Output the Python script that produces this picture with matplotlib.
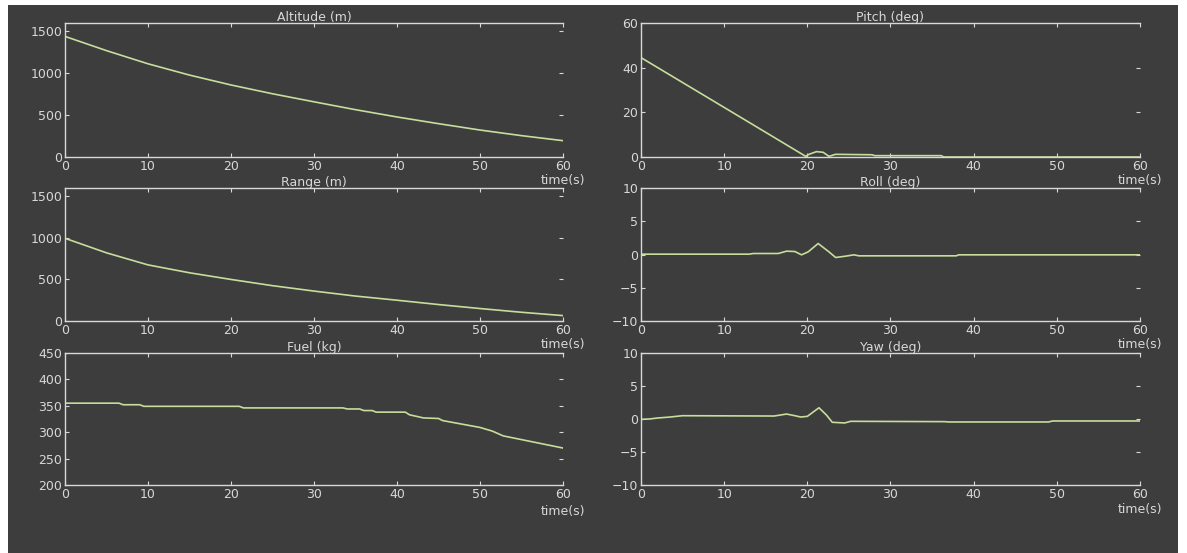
import matplotlib.pyplot as plt
from matplotlib.patches import Rectangle

# flight telemetry
alt_t = [0, 5, 10, 15, 20, 25, 30, 35, 40, 45, 50, 55, 60]
altitude = [1440, 1270, 1113, 978, 860, 755, 659, 565, 478, 398, 322, 255, 195]

rng_t = [0, 5, 10, 15, 20, 25, 30, 35, 40, 45, 50, 55, 60]
range_m = [995, 820, 675, 580, 500, 425, 360, 300, 250, 198, 150, 105, 65]

fuel_t = [0, 6.5, 7, 9, 9.5, 21, 21.5, 33.5, 34, 35.5, 36, 37, 37.5, 41, 41.5,
          43.2, 45, 45.5, 50, 51.5, 52.8, 60]
fuel = [355, 355, 352, 352, 349, 349, 346, 346, 344, 344, 341, 341, 338, 338, 333,
        327, 326, 322, 309, 302, 293, 270]

pitch_t = [0, 13, 19.8, 20.2, 21.1, 21.9, 22.6, 23.4, 27.8, 28.1, 36.1, 36.4, 60]
pitch = [44.5, 15.5, 0.3, 1.2, 2.4, 2.1, 0.3, 1.2, 1.0, 0.6, 0.6, 0.0, 0.0]

roll_t = [0, 13, 13.5, 16.5, 17.5, 18.5, 19.3, 20.1, 21.3, 22.6, 23.4, 24.6, 25.6,
          26.2, 37.9, 38.2, 60]
roll = [0.05, 0.05, 0.15, 0.15, 0.5, 0.45, -0.05, 0.4, 1.65, 0.4, -0.45, -0.25, -0.05,
        -0.2, -0.2, -0.05, -0.05]

yaw_t = [0, 1, 2, 3.5, 5, 16, 17.5, 18.5, 19.2, 20, 21.4, 22.3, 23, 24.5, 25.2,
         36.5, 37, 49, 49.5, 60]
yaw = [-0.05, 0.0, 0.15, 0.3, 0.5, 0.45, 0.75, 0.5, 0.3, 0.4, 1.7, 0.6, -0.5, -0.6,
       -0.35, -0.4, -0.45, -0.45, -0.3, -0.3]

time_ticks = [0, 10, 20, 30, 40, 50, 60]

BG = '#3d3d3d'
FG = '#d8d8d8'
LINE = '#c6dd9c'
FS = 9


def style_axes(ax, title, ylim, yticks, xlabel_y):
    ax.set_facecolor(BG)
    ax.set_xlim(0, 60)
    ax.set_ylim(*ylim)
    ax.set_xticks(time_ticks)
    ax.set_yticks(yticks)
    ax.set_title(title, color=FG, fontsize=FS, pad=1.5)
    ax.set_xlabel('time(s)', color=FG, fontsize=FS)
    ax.xaxis.set_label_coords(1.0, xlabel_y)
    ax.tick_params(direction='in', length=3, width=0.8, colors=FG, labelsize=FS,
                   top=True, right=True, pad=2)
    for side in ['left', 'bottom', 'top']:
        ax.spines[side].set_color(FG)
        ax.spines[side].set_linewidth(1.0)
    ax.spines['right'].set_visible(False)


W, H = 1187, 553
fig = plt.figure(figsize=(W / 100, H / 100), dpi=100, facecolor='white')
fig.patches.append(Rectangle((8 / W, 0), 1170 / W, 1 - 5 / H,
                             transform=fig.transFigure, facecolor=BG,
                             edgecolor='none', zorder=-5))

cols = [(65, 563), (641, 1140)]
rows = [(23, 157), (188, 321), (353, 485)]


def make_axes(col, row):
    x0, x1 = cols[col]
    y0, y1 = rows[row]
    return fig.add_axes([x0 / W, 1 - y1 / H, (x1 - x0) / W, (y1 - y0) / H])


panels = [
    (0, 0, alt_t, altitude, 'Altitude (m)', (0, 1600), [0, 500, 1000, 1500], -0.125),
    (0, 1, rng_t, range_m, 'Range (m)', (0, 1600), [0, 500, 1000, 1500], -0.125),
    (0, 2, fuel_t, fuel, 'Fuel (kg)', (200, 450), [200, 250, 300, 350, 400, 450], -0.15),
    (1, 0, pitch_t, pitch, 'Pitch (deg)', (0, 60), [0, 20, 40, 60], -0.125),
    (1, 1, roll_t, roll, 'Roll (deg)', (-10, 10), [-10, -5, 0, 5, 10], -0.125),
    (1, 2, yaw_t, yaw, 'Yaw (deg)', (-10, 10), [-10, -5, 0, 5, 10], -0.14),
]

for col, row, t, y, title, ylim, yticks, xly in panels:
    ax = make_axes(col, row)
    ax.plot(t, y, color=LINE, linewidth=1.2)
    style_axes(ax, title, ylim, yticks, xly)

fig.savefig('out.png', dpi=100, facecolor=fig.get_facecolor())
